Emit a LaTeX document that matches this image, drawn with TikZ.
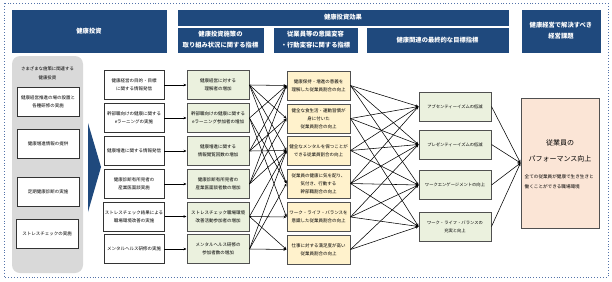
\documentclass[tikz,border=0pt]{standalone}
\usepackage{fontspec}
\setmainfont{Noto Sans CJK JP}
\usetikzlibrary{arrows.meta}
\definecolor{hdr}{RGB}{31,73,125}
\definecolor{grn}{RGB}{235,241,222}
\definecolor{ylw}{RGB}{255,242,204}
\definecolor{pch}{RGB}{251,229,214}
\definecolor{bdr}{RGB}{80,80,80}
\definecolor{dotc}{RGB}{84,115,170}
\definecolor{gryb}{RGB}{217,217,217}
\begin{document}
\begin{tikzpicture}[x=1pt,y=-1pt,
  hdrbox/.style={fill=hdr, draw=hdr, text=white, font=\fontsize{6.3}{11}\selectfont\bfseries, align=center, inner sep=0pt},
  wbox/.style={draw=black!80, fill=white, line width=0.7pt, font=\fontsize{4.5}{8}\selectfont, align=center, minimum width=60pt, minimum height=29pt, inner sep=1pt},
  gbox/.style={draw=bdr, fill=grn, line width=1pt, font=\fontsize{4.5}{8}\selectfont, align=center, minimum width=62pt, minimum height=29pt, inner sep=1pt},
  ybox/.style={draw=bdr, fill=ylw, line width=1pt, font=\fontsize{4.5}{8}\selectfont, align=center, minimum width=63pt, minimum height=29pt, inner sep=1pt},
  fbox/.style={draw=bdr, fill=grn, line width=1pt, font=\fontsize{4.3}{8}\selectfont, align=center, minimum width=72pt, minimum height=29pt, inner sep=1pt},
  conn/.style={-{Stealth[length=3pt,width=2.6pt]}, line width=0.55pt, black}
]
\useasboundingbox (0,0) rectangle (612,281);
% outer dotted frame
\draw[dotc, dotted, line width=0.9pt] (4,3) rectangle (608,277);

% headers
\node[hdrbox, minimum width=154pt, minimum height=42pt] (h1) at (89,31) {健康投資};
\node[hdrbox, minimum width=330pt, minimum height=15pt] (h2) at (343,17.5) {健康投資効果};
\node[hdrbox, minimum width=85pt, minimum height=24pt] (h2a) at (220.5,40) {健康投資施策の\\取り組み状況に関する指標};
\node[hdrbox, minimum width=83pt, minimum height=24pt] (h2b) at (315.5,40) {従業員等の意識変容\\・行動変容に関する指標};
\node[hdrbox, minimum width=141pt, minimum height=24pt] (h2c) at (437.5,40) {健康関連の最終的な目標指標};
\node[hdrbox, minimum width=78pt, minimum height=42pt] (h3) at (561,31) {健康経営で解決すべき\\経営課題};

% left gray panel
\node[fill=gryb, rounded corners=8pt, minimum width=71pt, minimum height=217pt, inner sep=0pt] (gp) at (47.5,164.5) {};
\node[font=\fontsize{4.4}{9}\selectfont, align=center, inner sep=0pt] (gpt) at (47.5,73.5) {さまざまな施策に関連する\\健康投資};
\node[wbox, minimum width=62pt] (s1) at (48,101.5) {健康経営推進の場の設置と\\各種研修の実施};
\node[wbox, minimum width=62pt] (s2) at (48,143.5) {健康増進情報の提供};
\node[wbox, minimum width=62pt] (s3) at (48,192) {定期健康診断の実施};
\node[wbox, minimum width=62pt] (s4) at (47,233.5) {ストレスチェックの実施};

% blue pointer
\fill[hdr] (88,123) -- (101,167) -- (88,212) -- cycle;

% column 1
\node[wbox] (c1) at (134,85) {健康経営の目的・目標\\に関する情報発信};
\node[wbox] (c2) at (134,118) {幹部職向けの健康に関する\\eラーニングの実施};
\node[wbox] (c3) at (134,151) {健康増進に関する情報発信};
\node[wbox] (c4) at (134,184) {健康診断有所見者の\\産業医面談実施};
\node[wbox] (c5) at (134,216.5) {ストレスチェック結果による\\職場環境改善の実施};
\node[wbox] (c6) at (134,249) {メンタルヘルス研修の実施};

% column 2
\node[gbox] (g1) at (218,85) {健康経営に対する\\理解者の増加};
\node[gbox] (g2) at (218,118) {幹部職向けの健康に関する\\eラーニング参加者の増加};
\node[gbox] (g3) at (218,151) {健康増進に関する\\情報閲覧回数の増加};
\node[gbox] (g4) at (218,184) {健康診断有所見者の\\産業医面談者数の増加};
\node[gbox] (g5) at (218,216.5) {ストレスチェック職場環境\\改善活動参加者の増加};
\node[gbox] (g6) at (218,249) {メンタルヘルス研修の\\参加者数の増加};

% column 3
\node[ybox] (y1) at (318.5,85.5) {健康保持・増進の意義を\\理解した従業員割合の向上};
\node[ybox] (y2) at (318.5,118.5) {健全な食生活・運動習慣が\\身に付いた\\従業員割合の向上};
\node[ybox] (y3) at (318.5,150.5) {健全なメンタルを保つことが\\できる従業員割合の向上};
\node[ybox] (y4) at (318.5,183.5) {従業員の健康に気を配り、\\気付き、行動する\\幹部職割合の向上};
\node[ybox] (y5) at (318.5,217) {ワーク・ライフ・バランスを\\意識した従業員割合の向上};
\node[ybox] (y6) at (318.5,249.5) {仕事に対する満足度が高い\\従業員割合の向上};

% column 4
\node[fbox] (a1) at (455,106.5) {アブセンティーイズムの低減};
\node[fbox] (a2) at (455,144.5) {プレゼンティーイズムの低減};
\node[fbox] (a3) at (455,185) {ワークエンゲージメントの向上};
\node[fbox] (a4) at (455,226.5) {ワーク・ライフ・バランスの\\充実と向上};

% right box
\node[draw=bdr, fill=pch, line width=1pt, minimum width=78pt, minimum height=130pt, inner sep=0pt] (p) at (560,163) {};
\node[font=\fontsize{7}{16}\selectfont, align=center, inner sep=0pt] (pt1) at (560,151) {従業員の\\パフォーマンス向上};
\node[font=\fontsize{4.6}{10}\selectfont, align=left, anchor=west, inner sep=0pt] (pt2) at (524.5,182) {全ての従業員が健康で生き生きと\\働くことができる職場環境};

% col1 -> col2
\foreach \i in {1,...,6} {\draw[conn] (c\i.east) -- (g\i.west);}

% col2 -> col3
\foreach \s/\t in {1/1,1/2,1/3,1/4, 2/1,2/4,2/5, 3/1,3/2,3/3, 4/1,4/2,4/3, 5/3,5/5,5/6, 6/3,6/4,6/6}
  {\draw[conn] (g\s.east) -- (y\t.west);}

% col3 -> col4
\foreach \s/\t in {1/1,1/2,1/3, 2/1,2/2,2/4, 3/1,3/2,3/3, 4/1,4/2,4/3,4/4, 5/2,5/3,5/4, 6/3,6/4}
  {\draw[conn] (y\s.east) -- (a\t.west);}

% col4 -> right
\foreach \i in {1,...,4} {\draw[conn] (a\i.east) -- (p.west);}
\end{tikzpicture}
\end{document}
